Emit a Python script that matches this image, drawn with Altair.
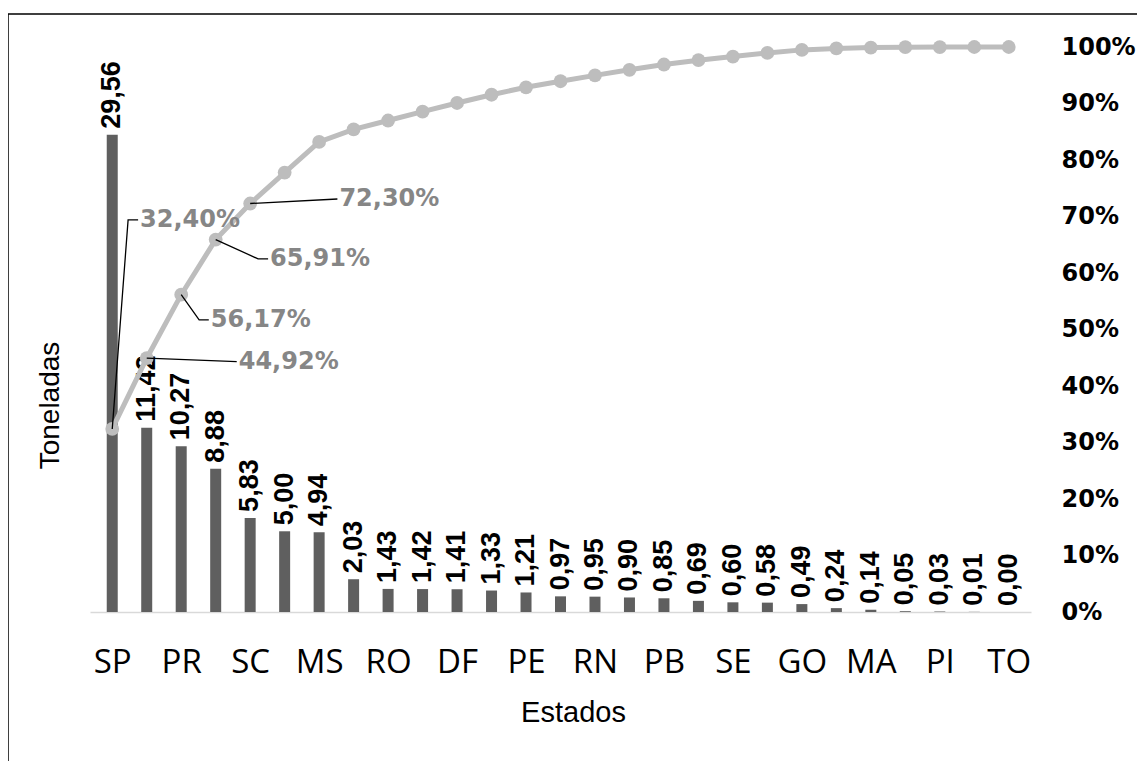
import altair as alt
import pandas as pd

# ---- data ----
states = ["SP", "MG", "PR", "RS", "SC", "RJ", "MS", "MT", "RO", "BA", "DF", "ES", "PE", "CE",
          "RN", "PA", "PB", "AL", "SE", "AM", "GO", "AC", "MA", "AP", "PI", "RR", "TO"]
toneladas = [29.56, 11.42, 10.27, 8.88, 5.83, 5.00, 4.94, 2.03, 1.43, 1.42, 1.41, 1.33, 1.21, 0.97,
             0.95, 0.90, 0.85, 0.69, 0.60, 0.58, 0.49, 0.24, 0.14, 0.05, 0.03, 0.01, 0.00]
cum_pct = [32.40, 44.92, 56.17, 65.91, 72.30, 77.78, 83.20, 85.42, 86.99, 88.55, 90.09, 91.55, 92.87, 93.94,
           94.98, 95.97, 96.90, 97.66, 98.31, 98.95, 99.49, 99.75, 99.90, 99.96, 99.99, 100.00, 100.00]

# ---- annotation layout (data units: x = category index, y = percent) ----
label_points = [0, 1, 2, 3, 4]
label_elbow_x = [0.46, 3.61, 2.52, 4.23, 6.53]
label_elbow_y = [69.4, 44.3, 51.7, 62.5, 73.1]
label_end_x = [0.75, 3.61, 2.80, 4.52, 6.53]
label_end_y = [69.4, 44.3, 51.7, 62.5, 73.1]

df = pd.DataFrame({"idx": list(range(len(states))), "estado": states, "t": toneladas, "cum": cum_pct})

rows = []
for k, p in enumerate(label_points):
    rows.append(dict(k=k, seq=0, idx=p, cum=cum_pct[p]))
    rows.append(dict(k=k, seq=1, idx=label_elbow_x[k], cum=label_elbow_y[k]))
    rows.append(dict(k=k, seq=2, idx=label_end_x[k], cum=label_end_y[k]))
leader_df = pd.DataFrame(rows)
lab_df = pd.DataFrame({"idx": label_end_x, "cum": label_end_y, "v": [cum_pct[p] for p in label_points]})

BAR = "#5f5f5f"
LINE = "#bdbdbd"
PCTTXT = "#868686"

label_expr = "[" + ",".join(f"'{s}'" for s in states) + "][datum.value]"
xscale = alt.Scale(domain=[-0.5, len(states) - 0.5], nice=False, zero=False)

x_axis = alt.Axis(values=list(range(0, len(states), 2)), labelExpr=label_expr,
                  title="Estados", grid=False, ticks=False,
                  domain=True, domainColor="#d9d9d9", domainWidth=1.5,
                  labelFont="Open Sans", labelFontSize=33, labelColor="black",
                  labelPadding=34,
                  titleFont="Liberation Sans", titleFontSize=29, titleFontWeight="normal",
                  titleColor="black", titleX=483, titleY=100, titleBaseline="middle",
                  titleAnchor="start", titleAlign="center")
x_enc = alt.X("idx:Q", scale=xscale, axis=x_axis)

yleft = alt.Scale(domain=[0, 35], nice=False)
yright = alt.Scale(domain=[0, 100], nice=False)

yl_axis = alt.Axis(labels=False, ticks=False, domain=False, grid=False, title="Toneladas",
                   titleFont="Liberation Sans", titleFontSize=28, titleFontWeight="normal",
                   titleColor="black", titleX=-40, titleY=358, titleAngle=270,
                   titleAlign="center", titleBaseline="middle")
yl_enc = alt.Y("t:Q", scale=yleft, axis=yl_axis)

bars = alt.Chart(df).mark_bar(size=11, color=BAR).encode(x=x_enc, y=yl_enc)

bar_labels = alt.Chart(df).transform_calculate(
    lbl="replace(format(datum.t, '.2f'), '.', ',')"
).mark_text(angle=270, align="left", baseline="middle", dx=6, font="Liberation Sans",
            fontWeight="bold", fontSize=27, color="black").encode(
    x=x_enc, y=yl_enc, text="lbl:N")

frame = alt.Chart(pd.DataFrame({"a": [0]})).mark_rect(fill=None, stroke="black", strokeWidth=1.5).encode(
    x=alt.value(-82), x2=alt.value(1200), y=alt.value(-33), y2=alt.value(900))

left_layer = alt.layer(bars, bar_labels, frame)

yr_axis = alt.Axis(orient="right", values=list(range(0, 101, 10)), labelExpr="datum.value + '%'",
                   ticks=False, domain=False, grid=False, title=None, labelPadding=30,
                   labelFont="DejaVu Sans", labelFontWeight="bold", labelFontSize=24, labelColor="black")
yr_enc = alt.Y("cum:Q", scale=yright, axis=yr_axis)

line = alt.Chart(df).mark_line(color=LINE, strokeWidth=5).encode(x=x_enc, y=yr_enc)
points = alt.Chart(df).mark_point(filled=True, size=190, color=LINE, opacity=1).encode(x=x_enc, y=yr_enc)
leaders = alt.Chart(leader_df).mark_line(color="black", strokeWidth=1.3).encode(
    x=x_enc, y=yr_enc, detail="k:N", order="seq:Q")
pct_labels = alt.Chart(lab_df).transform_calculate(
    lbl="replace(format(datum.v, '.2f'), '.', ',') + '%'"
).mark_text(align="left", baseline="middle", dx=2, font="DejaVu Sans", fontWeight="bold",
            fontSize=24, color=PCTTXT).encode(x=x_enc, y=yr_enc, text="lbl:N")

right_layer = alt.layer(line, points, leaders, pct_labels)

chart = alt.layer(left_layer, right_layer).resolve_scale(y="independent").properties(
    width=941, height=565,
    padding={"left": 82, "top": 39, "right": 106, "bottom": 149},
    autosize=alt.AutoSizeParams(type="none"),
    background="white",
).configure_view(stroke=None)

chart.save("out.html", embed_options={"renderer": "svg", "actions": False})
